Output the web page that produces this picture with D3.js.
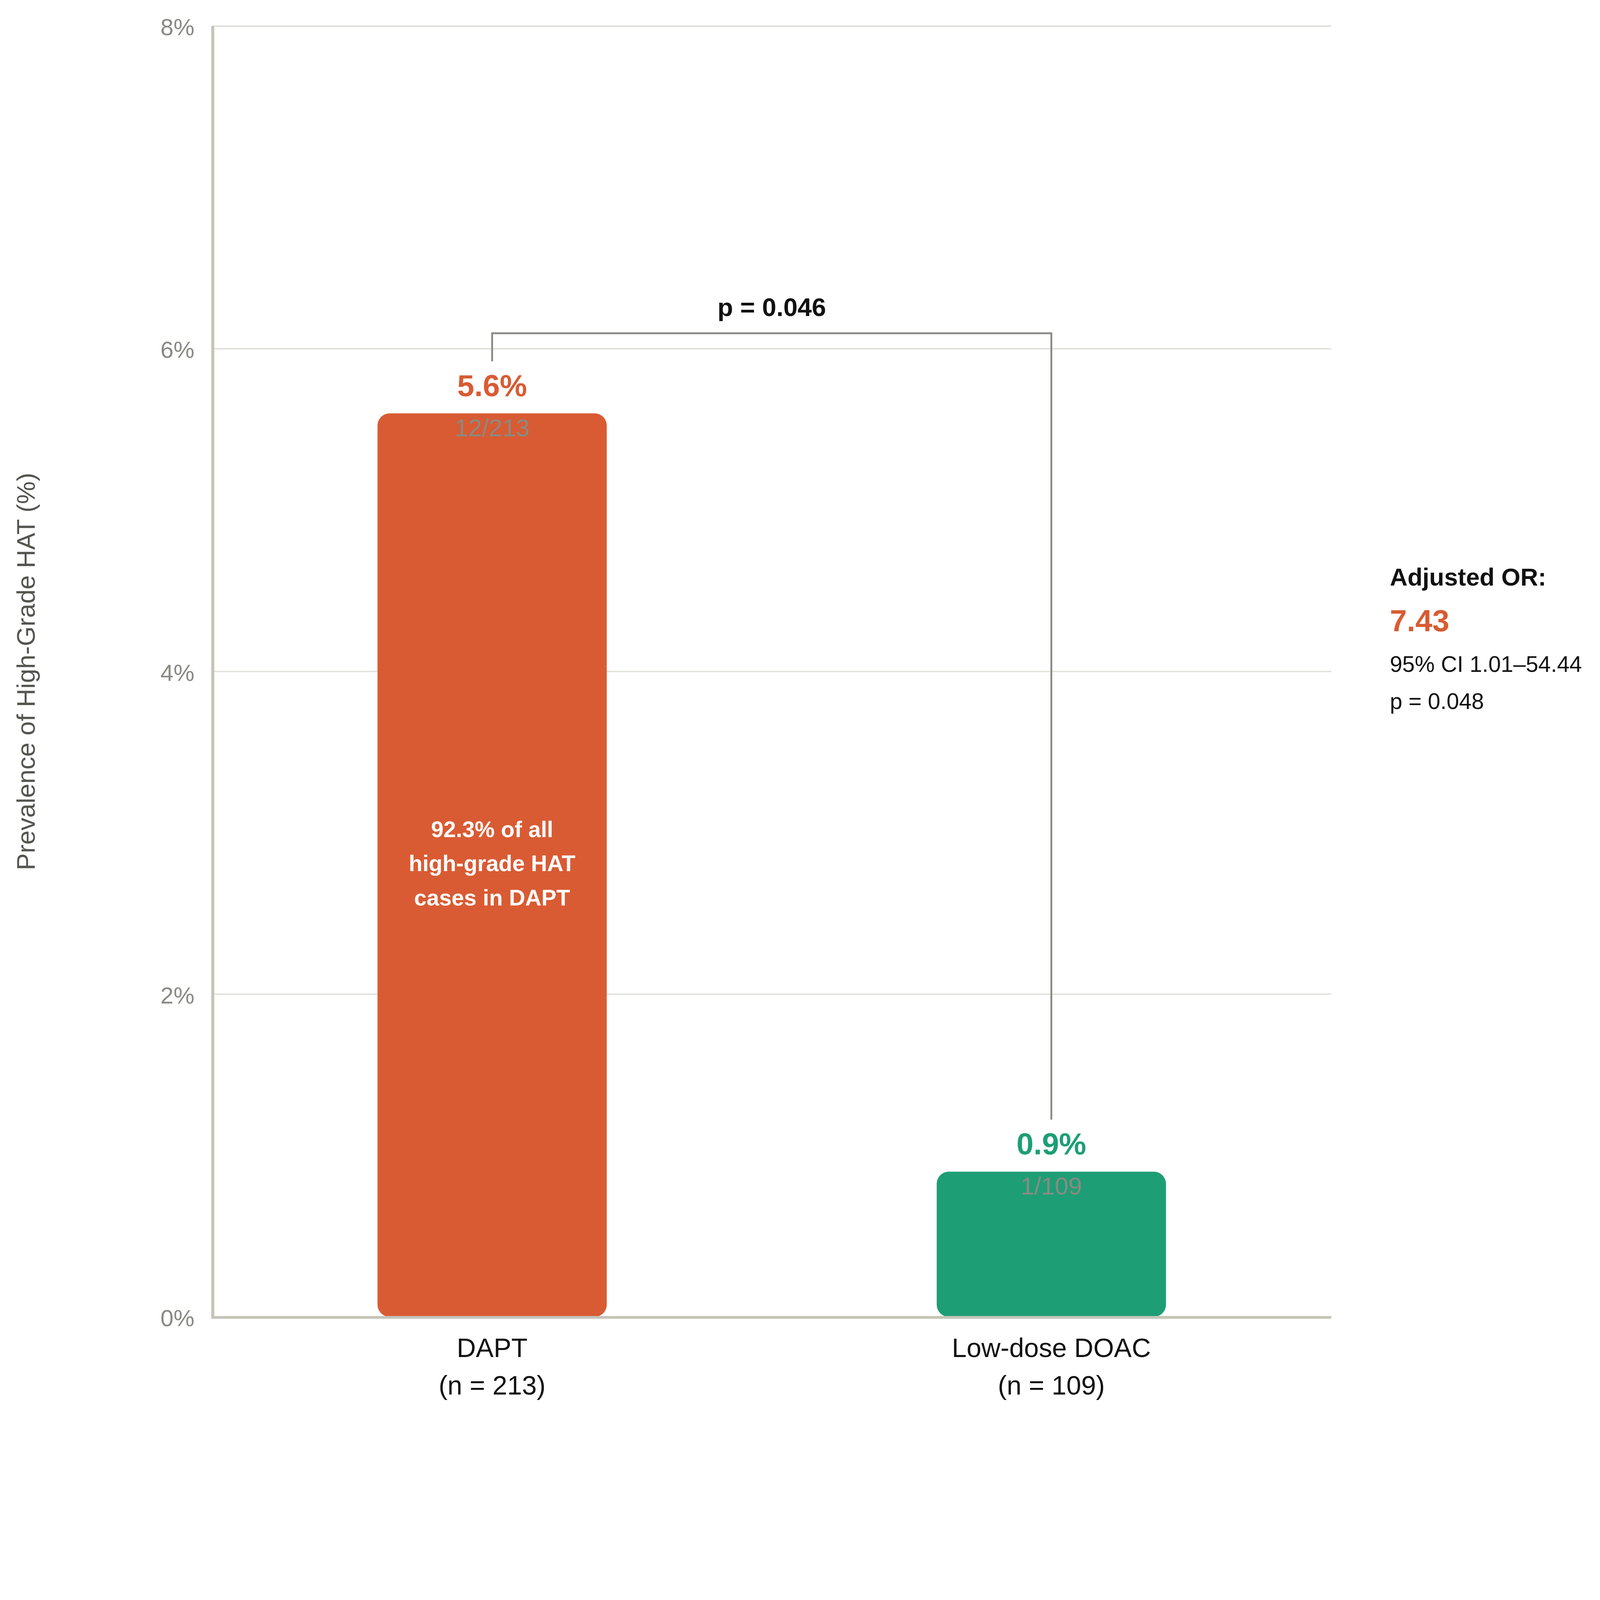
<!DOCTYPE html>
<html>
<head>
    <meta charset="utf-8">
    <title>Prevalence of High-Grade HAT: DAPT vs Low-dose DOAC</title>
    <style>
        html, body {
            margin: 0;
            padding: 0;
            width: 100%;
            height: 100%;
            overflow: hidden;
            background: #ffffff;
        }
        #chart svg {
            display: block;
            width: 100vw;
            height: 100vh;
        }
        svg text {
            font-family: 'Liberation Sans', Arial, Helvetica, sans-serif;
        }
    </style>
</head>
<body>
<div id="chart"></div>
<script src="https://cdn.jsdelivr.net/npm/d3@7"></script>
<script>
    // chart values
    var groups = ['DAPT', 'Low-dose DOAC'];
    var groupNs = ['(n = 213)', '(n = 109)'];
    var prevalence = [5.6, 0.9];
    var counts = ['12/213', '1/109'];
    var barColors = ['#d95b33', '#1e9e75'];
    var yTicks = [0, 2, 4, 6, 8];
    var pLabel = 'p = 0.046';
    var insideLines = ['92.3% of all', 'high-grade HAT', 'cases in DAPT'];
    var orTitle = 'Adjusted OR:';
    var orValue = '7.43';
    var orDetails = ['95% CI 1.01\u201354.44', 'p = 0.048'];

    (function(d3) {
        'use strict';

        // drawing is done in a 1568-wide space; the svg stretches to the window
        var vw = 1568, vh = vw * 5718 / 6198;

        var left = 208, right = 1304.6, top = 25.6, bottom = 1290.5;

        var svg = d3.select('#chart')
            .append('svg')
            .attr('viewBox', '0 0 ' + vw + ' ' + vh)
            .attr('preserveAspectRatio', 'xMinYMin meet');

        var x = d3.scaleBand()
            .domain(groups)
            .range([left, right])
            .paddingInner(0.59)
            .paddingOuter(0.2955);

        var y = d3.scaleLinear()
            .domain([0, 8])
            .range([bottom, top]);

        // gridlines
        svg.append('g')
            .selectAll('line')
            .data(yTicks.filter(function(d) { return d > 0; }))
            .enter()
            .append('line')
            .attr('x1', left)
            .attr('x2', right)
            .attr('y1', function(d) { return y(d); })
            .attr('y2', function(d) { return y(d); })
            .attr('stroke', '#e0e0d9')
            .attr('stroke-width', 1.4);

        // y axis labels
        var yAxis = svg.append('g')
            .attr('transform', 'translate(' + left + ',0)')
            .call(d3.axisLeft(y)
                .tickValues(yTicks)
                .tickFormat(function(d) { return d + '%'; })
                .tickSize(0)
                .tickPadding(17.5));
        yAxis.select('.domain').remove();
        yAxis.selectAll('text')
            .attr('dy', '0.37em')
            .attr('fill', '#8a8a84')
            .style('font-size', '23px')
            .style('font-family', "'Liberation Sans', Arial, Helvetica, sans-serif");

        // bars
        svg.append('g')
            .selectAll('rect')
            .data(groups)
            .enter()
            .append('rect')
            .attr('x', function(d) { return x(d); })
            .attr('y', function(d, i) { return y(prevalence[i]); })
            .attr('width', x.bandwidth())
            .attr('height', function(d, i) { return y(0) - y(prevalence[i]); })
            .attr('rx', 12)
            .attr('ry', 12)
            .attr('fill', function(d, i) { return barColors[i]; });

        // axis lines on top of the bars
        svg.append('line')
            .attr('x1', left + 0.5)
            .attr('x2', left + 0.5)
            .attr('y1', top)
            .attr('y2', bottom + 1.7)
            .attr('stroke', '#c4c4b8')
            .attr('stroke-width', 3);
        svg.append('line')
            .attr('x1', left)
            .attr('x2', right)
            .attr('y1', bottom + 0.5)
            .attr('y2', bottom + 0.5)
            .attr('stroke', '#c4c4b8')
            .attr('stroke-width', 2.7);

        var cx = function(d) { return x(d) + x.bandwidth() / 2; };

        // value labels
        svg.append('g')
            .selectAll('text')
            .data(groups)
            .enter()
            .append('text')
            .attr('x', cx)
            .attr('y', function(d, i) { return y(prevalence[i]) - 17; })
            .attr('text-anchor', 'middle')
            .attr('fill', function(d, i) { return barColors[i]; })
            .style('font-size', '30px')
            .style('font-weight', 'bold')
            .text(function(d, i) { return prevalence[i].toFixed(1) + '%'; });

        // counts
        svg.append('g')
            .selectAll('text')
            .data(groups)
            .enter()
            .append('text')
            .attr('x', cx)
            .attr('y', function(d, i) { return y(prevalence[i]) + 22.5; })
            .attr('text-anchor', 'middle')
            .attr('fill', '#8a8a84')
            .style('font-size', '24px')
            .text(function(d, i) { return counts[i]; });

        // note inside the DAPT bar
        var midY = (y(prevalence[0]) + y(0)) / 2;
        svg.append('g')
            .selectAll('text')
            .data(insideLines)
            .enter()
            .append('text')
            .attr('x', cx(groups[0]))
            .attr('y', function(d, i) { return midY + 6 + (i - 1) * 33.5; })
            .attr('text-anchor', 'middle')
            .attr('fill', '#ffffff')
            .style('font-size', '22px')
            .style('font-weight', 'bold')
            .text(function(d) { return d; });

        // significance bracket
        var bx1 = cx(groups[0]), bx2 = cx(groups[1]);
        var bTop = y(prevalence[0]) - 78.5;
        var bracket = d3.path();
        bracket.moveTo(bx1, y(prevalence[0]) - 51);
        bracket.lineTo(bx1, bTop);
        bracket.lineTo(bx2, bTop);
        bracket.lineTo(bx2, y(prevalence[1]) - 51);
        svg.append('path')
            .attr('d', bracket.toString())
            .attr('fill', 'none')
            .attr('stroke', '#8a8a84')
            .attr('stroke-width', 1.8);

        svg.append('text')
            .attr('x', (bx1 + bx2) / 2)
            .attr('y', bTop - 17)
            .attr('text-anchor', 'middle')
            .attr('fill', '#111111')
            .style('font-size', '25px')
            .style('font-weight', 'bold')
            .text(pLabel);

        // x axis labels
        var xl = svg.append('g')
            .selectAll('g')
            .data(groups)
            .enter()
            .append('g');
        xl.append('text')
            .attr('x', cx)
            .attr('y', bottom + 39.3)
            .attr('text-anchor', 'middle')
            .attr('fill', '#111111')
            .style('font-size', '26px')
            .text(function(d) { return d; });
        xl.append('text')
            .attr('x', cx)
            .attr('y', bottom + 76.2)
            .attr('text-anchor', 'middle')
            .attr('fill', '#111111')
            .style('font-size', '26px')
            .text(function(d, i) { return groupNs[i]; });

        // y axis title
        svg.append('text')
            .attr('transform', 'translate(34.2,' + ((top + bottom) / 2) + ') rotate(-90)')
            .attr('text-anchor', 'middle')
            .attr('fill', '#555550')
            .style('font-size', '25px')
            .text('Prevalence of High-Grade HAT (%)');

        // adjusted odds ratio note
        var noteX = 1362;
        svg.append('text')
            .attr('x', noteX)
            .attr('y', 573.8)
            .attr('fill', '#111111')
            .style('font-size', '24px')
            .style('font-weight', 'bold')
            .text(orTitle);
        svg.append('text')
            .attr('x', noteX)
            .attr('y', 618.8)
            .attr('fill', barColors[0])
            .style('font-size', '30px')
            .style('font-weight', 'bold')
            .text(orValue);
        svg.append('g')
            .selectAll('text')
            .data(orDetails)
            .enter()
            .append('text')
            .attr('x', noteX)
            .attr('y', function(d, i) { return 658.3 + i * 36.4; })
            .attr('fill', '#111111')
            .style('font-size', '22px')
            .text(function(d) { return d; });
    })(window.d3);
</script>
</body>
</html>
